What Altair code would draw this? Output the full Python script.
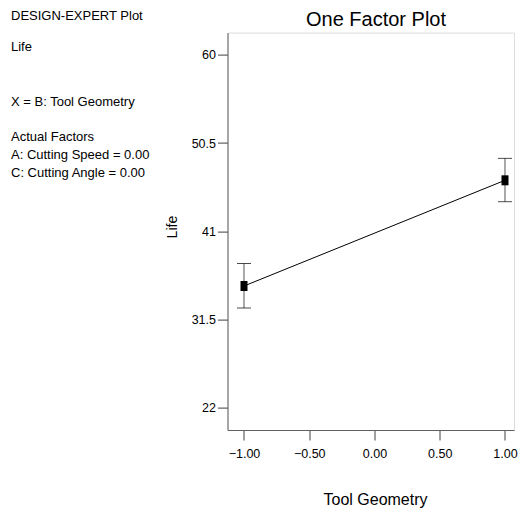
import altair as alt
import pandas as pd

# Data
geometry = [-1.0, 1.0]
life = [35.12, 46.49]
life_low = [32.75, 44.19]
life_high = [37.53, 48.85]

x_ticks = [-1.0, -0.5, 0.0, 0.5, 1.0]
y_ticks = [22, 31.5, 41, 50.5, 60]

title_text = "One Factor Plot"
notes = [
    "DESIGN-EXPERT Plot",
    "Life",
    "X = B: Tool Geometry",
    "Actual Factors",
    "A: Cutting Speed = 0.00",
    "C: Cutting Angle = 0.00",
]
note_y = [-16.8, 14.4, 69.4, 104.4, 122.4, 140.1]

FONT = "Liberation Sans"
W, H = 286.5, 397.4

df = pd.DataFrame({"x": geometry, "y": life, "lo": life_low, "hi": life_high})

xscale = alt.Scale(domain=[-1.1264, 1.069], nice=False, zero=False)
yscale = alt.Scale(domain=[19.63, 62.38], nice=False, zero=False)

X = alt.X("x:Q", scale=xscale, title="Tool Geometry",
          axis=alt.Axis(values=x_ticks, format=".2f", grid=False, tickSize=10,
                        labelPadding=7, labelFontSize=12.5, labelFont=FONT,
                        labelColor="black", titleFont=FONT, titleFontSize=16,
                        titleFontWeight="normal", titleColor="black",
                        titleX=147.5, titleY=74.5, titleBaseline="alphabetic",
                        domainColor="#606060", tickColor="#404040"))
Y = alt.Y("y:Q", scale=yscale, title="Life",
          axis=alt.Axis(values=y_ticks, format=".1~f", grid=False, tickSize=10,
                        labelPadding=2, labelFontSize=12.5, labelFont=FONT,
                        labelColor="black", titleFont=FONT, titleFontSize=14,
                        titleFontWeight="normal", titleColor="black",
                        titleX=-55, titleY=194, titleBaseline="middle",
                        titleAngle=270, domainColor="#606060", tickColor="#404040"))

base = alt.Chart(df)

line = base.mark_line(color="black", strokeWidth=1).encode(x=X, y=Y)
bars = base.mark_rule(color="#555555", strokeWidth=1).encode(
    x=alt.X("x:Q", scale=xscale), y=alt.Y("lo:Q", scale=yscale), y2="hi:Q")
cap_lo = base.mark_tick(orient="horizontal", size=14, thickness=1, color="black").encode(
    x=alt.X("x:Q", scale=xscale), y=alt.Y("lo:Q", scale=yscale))
cap_hi = base.mark_tick(orient="horizontal", size=14, thickness=1, color="black").encode(
    x=alt.X("x:Q", scale=xscale), y=alt.Y("hi:Q", scale=yscale))
pts = base.mark_point(shape="M-0.7,-1L0.7,-1L0.7,1L-0.7,1Z", size=100, filled=True,
                      color="black", opacity=1).encode(
    x=alt.X("x:Q", scale=xscale), y=alt.Y("y:Q", scale=yscale))

title_layer = alt.Chart(pd.DataFrame({"t": [title_text]})).mark_text(
    align="center", baseline="alphabetic", font=FONT, fontSize=20, color="black"
).encode(text="t:N", x=alt.value(148.5), y=alt.value(-6.2))

note_layers = []
for txt, yy in zip(notes, note_y):
    note_layers.append(
        alt.Chart(pd.DataFrame({"t": [txt]})).mark_text(
            align="left", baseline="middle", font=FONT, fontSize=13, color="black"
        ).encode(text="t:N", x=alt.value(-216.5), y=alt.value(yy))
    )

chart = alt.layer(line, bars, cap_lo, cap_hi, pts, title_layer, *note_layers).properties(
    width=W,
    height=H,
    autosize=alt.AutoSizeParams(type="none"),
    padding={"left": 219.5, "top": 24.6, "right": 5, "bottom": 78},
).configure_view(stroke="black", strokeWidth=1).configure(background="white")

chart.save("out.html", embed_options={"renderer": "svg", "actions": False})
